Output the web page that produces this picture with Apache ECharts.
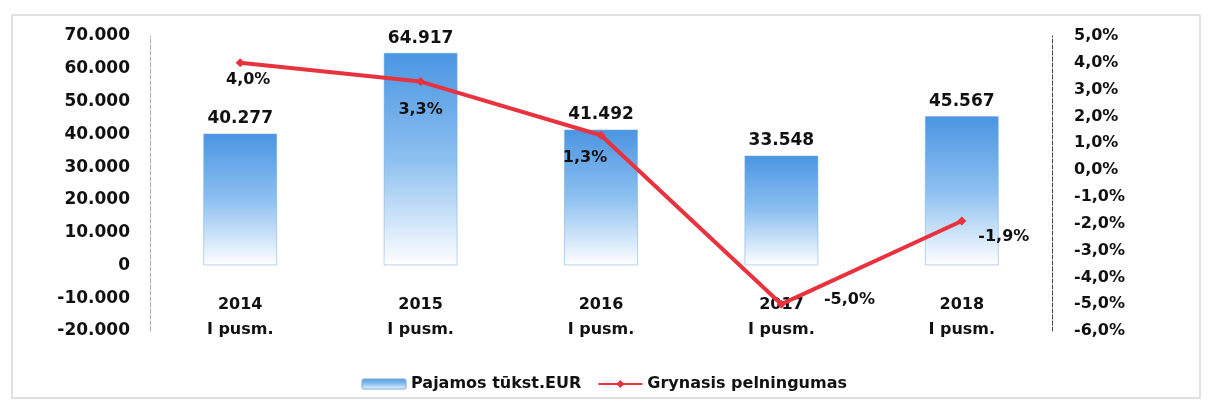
<!DOCTYPE html>
<html>
<head>
<meta charset="utf-8">
<script src="https://cdn.jsdelivr.net/npm/echarts@6/dist/echarts.min.js"></script>
<style>
  html, body { margin: 0; padding: 0; background: #fff; }
  #chart { width: 1208px; height: 403px; }
</style>
</head>
<body>
<div id="chart"></div>
<script>
const categories = ['2014\nI pusm.', '2015\nI pusm.', '2016\nI pusm.', '2017\nI pusm.', '2018\nI pusm.']
const revenue = [40277, 64917, 41492, 33548, 45567] // Pajamos tūkst.EUR
const margin = [4.0, 3.3, 1.3, -5.0, -1.9] // Grynasis pelningumas, %

// where each % label sits next to its point
const labelPos = ['bottom', 'bottom', 'bottom', 'right', 'right']
const labelOffset = [[8, -3], [0, 8], [-16, 2], [30, -4], [4, 16]]

const fontFamily = '"DejaVu Sans", Verdana, sans-serif'

// 40277 -> "40.277"
function thousands(v) {
  const s = String(Math.abs(Math.round(v))).replace(/\B(?=(\d{3})+(?!\d))/g, '.')
  return (v < 0 ? '-' : '') + s
}
function pct(v) {
  return v.toFixed(1).replace('.', ',') + '%'
}

const chart = echarts.init(document.getElementById('chart'))

chart.setOption({
  animation: false,
  textStyle: { fontFamily },
  graphic: [{
    type: 'rect',
    shape: { x: 12, y: 15, width: 1188, height: 383 },
    style: { fill: 'none', stroke: '#d8d8d8', lineWidth: 1.5 },
    silent: true
  }],
  grid: {
    top: 36,
    left: 150,
    right: 156,
    bottom: 72
  },
  legend: {
    bottom: 6,
    left: 'center',
    itemGap: 16,
    itemWidth: 44,
    itemHeight: 10,
    textStyle: { fontSize: 16, fontWeight: 'bold', color: '#111', fontFamily },
    data: [
      { name: 'Pajamos tūkst.EUR', icon: 'roundRect' },
      { name: 'Grynasis pelningumas' }
    ]
  },
  xAxis: {
    type: 'category',
    data: categories,
    offset: -40,
    axisLine: { show: false },
    axisTick: { show: false },
    axisLabel: {
      margin: 1,
      fontSize: 16,
      fontWeight: 'bold',
      color: '#111',
      lineHeight: 25
    }
  },
  yAxis: [{
    type: 'value',
    min: -20000,
    max: 70000,
    interval: 10000,
    splitLine: { show: false },
    axisLine: { show: true, lineStyle: { color: '#aaa', type: 'dashed' } },
    axisTick: { show: false },
    axisLabel: {
      margin: 20,
      fontSize: 17,
      fontWeight: 'bold',
      color: '#111',
      formatter: thousands
    }
  }, {
    type: 'value',
    min: -6,
    max: 5,
    interval: 1,
    splitLine: { show: false },
    axisLine: { show: true, lineStyle: { color: '#444', type: 'dashed' } },
    axisTick: { show: false },
    axisLabel: {
      margin: 22,
      fontSize: 16,
      fontWeight: 'bold',
      color: '#111',
      formatter: pct
    }
  }],
  series: [{
    name: 'Pajamos tūkst.EUR',
    type: 'bar',
    data: revenue,
    barWidth: 74,
    itemStyle: {
      color: new echarts.graphic.LinearGradient(0, 0, 0, 1, [
        { offset: 0, color: '#4a95e2' },
        { offset: 0.5, color: '#8cc0f0' },
        { offset: 1, color: '#ffffff' }
      ]),
      borderColor: 'rgba(120,170,220,0.5)',
      borderWidth: 1
    },
    label: {
      show: true,
      position: 'top',
      distance: 6,
      fontSize: 17,
      fontWeight: 'bold',
      color: '#111',
      formatter: p => thousands(p.value)
    }
  }, {
    name: 'Grynasis pelningumas',
    type: 'line',
    yAxisIndex: 1,
    data: margin.map((v, i) => ({
      value: v,
      label: { position: labelPos[i], offset: labelOffset[i] }
    })),
    symbol: 'diamond',
    symbolSize: 9,
    lineStyle: { color: '#e8323e', width: 4 },
    itemStyle: { color: '#e8323e' },
    z: 5,
    label: {
      show: true,
      distance: 8,
      fontSize: 16,
      fontWeight: 'bold',
      color: '#111',
      formatter: p => pct(p.value)
    }
  }]
})
</script>
</body>
</html>
